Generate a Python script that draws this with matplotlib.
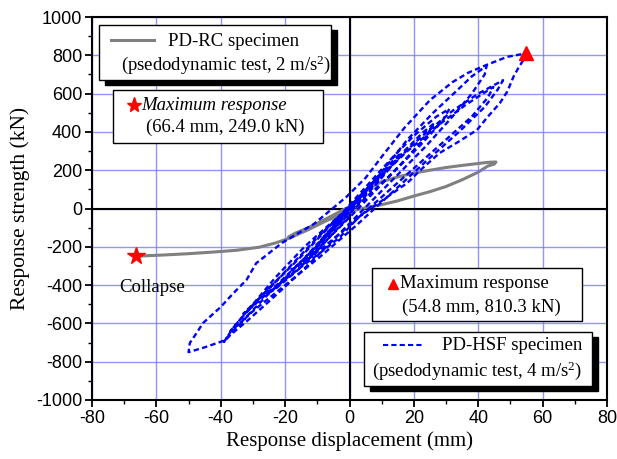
import matplotlib
matplotlib.use('Agg')
import matplotlib.pyplot as plt
from matplotlib.patches import Rectangle
from matplotlib.lines import Line2D

plt.rcParams['font.family'] = 'Liberation Serif'
plt.rcParams['axes.unicode_minus'] = False
plt.rcParams['mathtext.fontset'] = 'custom'
plt.rcParams['mathtext.rm'] = 'Liberation Serif'
plt.rcParams['mathtext.it'] = 'Liberation Serif:italic'

# PD-RC specimen (2 m/s2) - gray solid
rc_x = [0, -3, -7, -12, -17, -19, -15, -9, -4, 0, 3, 6, 10, 15, 20, 25, 30, 35, 40, 43, 45.5,
        45, 43, 40, 35, 30, 25, 20, 15, 10, 6, 2, -2, -7, -13, -18.5, -23, -28, -35, -42, -50, -58, -66.4]
rc_y = [0, -25, -55, -95, -130, -150, -120, -70, -25, 10, 55, 105, 140, 165, 185, 200, 214, 225, 235, 241, 243,
        232, 222, 190, 150, 115, 88, 65, 40, 20, 8, -8, -30, -62, -112, -154, -180, -202, -218, -227, -236, -243, -249]

# PD-HSF specimen (4 m/s2) - blue dashed
hsf_x = [0, 1.5, 3, 2, 0, -1.5, -3, -2, 0,
         2.5, 5, 3.5, 1, -2.5, -5, -3.5, -1,
         3, 6, 8, 6, 2, -3, -7, -9, -6, -2,
         3, 8, 13, 16, 14, 9, 3, -4, -10, -15, -18, -15, -9, -3,
         3, 10, 17, 23, 26, 24, 17, 9, 1, -8, -16, -23, -26, -22, -14, -6,
         -1, 6, 13, 20, 27, 31, 29, 22, 13, 4, -5, -14, -22, -30, -33, -30, -23, -14, -6,
         2, 10, 18, 26, 33, 38, 42.6, 42, 38, 32, 24, 14, 4, -6, -15, -24, -32, -37, -39,
         -36, -31, -24, -15, -6, 3, 12, 22, 32, 40, 45, 47.7, 46, 42, 34, 24, 13, 2, -9, -20, -31, -39, -45, -50,
         -49.6, -47.5, -45.5, -40, -36, -32, -29, -21, -11, -1, 5, 10, 17, 25, 32, 37, 42.6, 49, 54.8,
         54, 52.5, 51, 49, 46.7, 43, 39.6, 34, 28, 22, 18, 10, 3, -3, -9, -15, -21.5, -26, -30, -34, -37,
         -34, -28, -20, -11, -2, 8, 18, 28, 36, 41, 44.7, 43, 38, 30, 20, 10, 0, -8, -14, -10, -4, 0]
hsf_y = [0, 25, 55, 35, 5, -25, -50, -30, 0,
         50, 95, 70, 20, -45, -90, -65, -15,
         60, 115, 150, 110, 35, -60, -130, -170, -120, -40,
         50, 150, 240, 290, 240, 140, 30, -90, -200, -280, -320, -290, -180, -60,
         40, 170, 300, 400, 440, 380, 250, 110, -30, -180, -320, -420, -450, -400, -260, -110,
         0, 130, 260, 380, 480, 520, 460, 330, 180, 40, -110, -260, -390, -510, -550, -500, -360, -200, -80,
         30, 190, 360, 500, 610, 690, 745, 700, 600, 480, 330, 160, -10, -180, -330, -470, -590, -660, -697,
         -620, -520, -400, -250, -90, 60, 210, 370, 510, 600, 645, 670, 620, 530, 400, 250, 80, -90, -250, -400, -550, -690, -725, -750,
         -702, -650, -598, -514, -441, -373, -286, -180, -80, 60, 160, 270, 420, 566, 660, 710, 750, 792, 810,
         775, 735, 690, 610, 550, 480, 410, 350, 290, 200, 134, 40, -43, -150, -230, -305, -390, -460, -530, -600, -640,
         -580, -470, -330, -170, -20, 140, 300, 440, 540, 595, 635, 580, 480, 360, 210, 60, -90, -200, -280, -220, -110, -40]

rc_max = (-66.4, -249.0)
hsf_max = (54.8, 810.3)

fig = plt.figure(figsize=(6.17, 4.59), dpi=100)
ax = fig.add_axes([92/617, 59/459, 515/617, 383/459])

ax.plot(rc_x, rc_y, color='#808080', lw=2.2, zorder=3)
ax.plot(hsf_x, hsf_y, color='blue', lw=1.7, dashes=(2.3, 1.4), zorder=4)
ax.plot(*rc_max, marker='*', color='red', ms=13, mec='red', zorder=6)
ax.plot(*hsf_max, marker='^', color='red', ms=10, mec='red', zorder=6)

ax.axhline(0, color='black', lw=1.5, zorder=2)
ax.axvline(0, color='black', lw=1.5, zorder=2)

ax.set_xlim(-80, 80)
ax.set_ylim(-1000, 1000)
ax.set_xticks(range(-80, 81, 20))
ax.set_xticks(range(-70, 80, 20), minor=True)
ax.set_yticks(range(-1000, 1001, 200))
ax.set_yticks(range(-900, 1000, 200), minor=True)
ax.grid(True, which='major', color='#7a7aff', lw=1.0, alpha=0.8, zorder=1)
ax.set_axisbelow(True)
for s in ax.spines.values():
    s.set_linewidth(1.5)
ax.tick_params(which='major', direction='out', length=5, width=1.3, pad=2)
ax.tick_params(which='minor', direction='out', length=3, width=1.0)
for lbl in ax.get_xticklabels() + ax.get_yticklabels():
    lbl.set_family(['Liberation Sans Narrow', 'Liberation Sans'])
    lbl.set_fontsize(13)

ax.set_xlabel('Response displacement (mm)', fontsize=15, labelpad=3)
ax.set_ylabel('Response strength (kN)', fontsize=15.5, labelpad=4)


def fx(px):
    return (px - 92) / 515


def fy(py):
    return (400 - py) / 383


def box(x0, y0, x1, y1, shadow=False):
    if shadow:
        ax.add_patch(Rectangle((fx(x0 + 6), fy(y1 + 5)), fx(x1) - fx(x0), fy(y0) - fy(y1),
                               transform=ax.transAxes, facecolor='black', edgecolor='black', zorder=7))
    ax.add_patch(Rectangle((fx(x0), fy(y1)), fx(x1) - fx(x0), fy(y0) - fy(y1),
                           transform=ax.transAxes, facecolor='white', edgecolor='black', lw=1.0, zorder=8))


fs = 13.5
# PD-RC legend
box(99, 25, 331, 80, shadow=True)
ax.add_line(Line2D([fx(111), fx(154)], [fy(40), fy(40)], transform=ax.transAxes,
                   color='#808080', lw=2.2, zorder=9))
ax.text(fx(168), fy(42), 'PD-RC specimen', transform=ax.transAxes, fontsize=fs, va='center', zorder=9)
ax.text(fx(121), fy(65), '(psedodynamic test, 2 m/s$^2$)', transform=ax.transAxes, fontsize=fs,
        va='center', zorder=9)

# RC max response
box(113, 90, 323, 143)
ax.plot([fx(134)], [fy(105)], marker='*', color='red', ms=11, transform=ax.transAxes, zorder=9)
ax.text(fx(141), fy(105), 'Maximum response', style='italic', transform=ax.transAxes, fontsize=fs,
        va='center', zorder=9)
ax.text(fx(146), fy(127), '(66.4 mm, 249.0 kN)', transform=ax.transAxes, fontsize=fs, va='center', zorder=9)

# HSF max response
box(372, 268, 582, 321)
ax.plot([fx(393)], [fy(284)], marker='^', color='red', ms=7, transform=ax.transAxes, zorder=9)
ax.text(fx(400), fy(284), 'Maximum response', transform=ax.transAxes, fontsize=fs, va='center', zorder=9)
ax.text(fx(402), fy(307), '(54.8 mm, 810.3 kN)', transform=ax.transAxes, fontsize=fs, va='center', zorder=9)

# PD-HSF legend
box(364, 332, 592, 386, shadow=True)
ax.add_line(Line2D([fx(383), fx(422)], [fy(345), fy(345)], transform=ax.transAxes,
                   color='blue', lw=1.5, dashes=(2.5, 1.5), zorder=9))
ax.text(fx(442), fy(346), 'PD-HSF specimen', transform=ax.transAxes, fontsize=fs, va='center', zorder=9)
ax.text(fx(372), fy(371), '(psedodynamic test, 4 m/s$^2$)', transform=ax.transAxes, fontsize=fs,
        va='center', zorder=9)

ax.text(-71.5, -415, 'Collapse', fontsize=fs, va='center', zorder=9)

fig.savefig('out.png', dpi=100)
